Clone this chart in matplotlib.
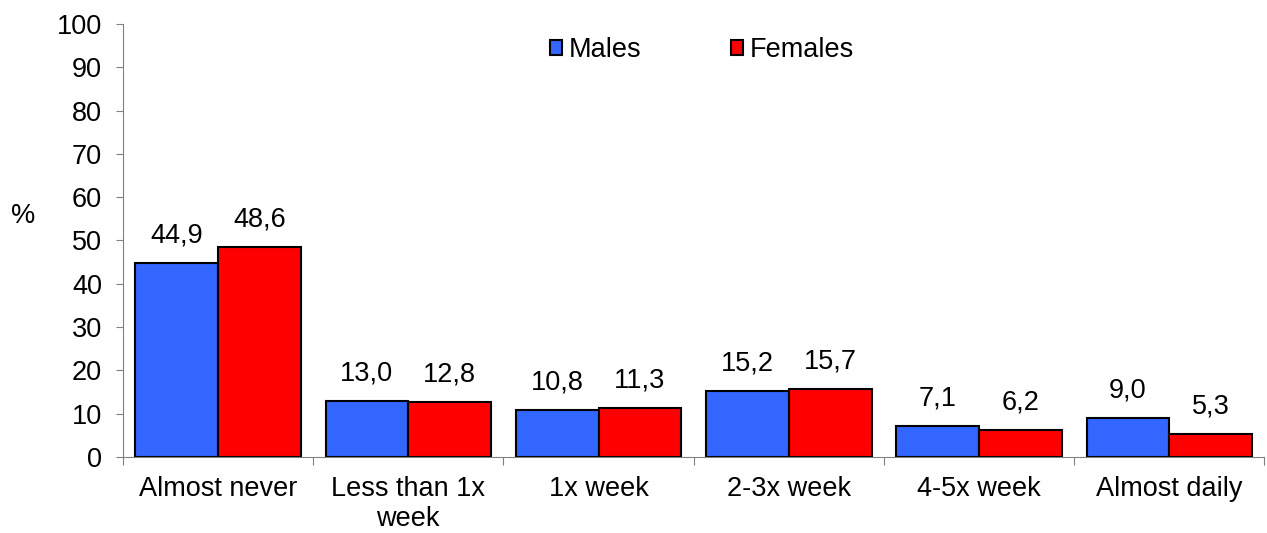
import numpy as np
import matplotlib.pyplot as plt
from matplotlib.patches import Patch

plt.rcParams['font.family'] = ['Liberation Sans', 'DejaVu Sans']

# %% data
categories = ['Almost never', 'Less than 1x\nweek', '1x week', '2-3x week', '4-5x week', 'Almost daily']
males = [44.9, 13.0, 10.8, 15.2, 7.1, 9.0]
females = [48.6, 12.8, 11.3, 15.7, 6.2, 5.3]

FS = 19.5

# %% plot
fig = plt.figure(figsize=(12.67, 5.33), dpi=100)
ax = fig.add_axes([0.097, 0.1426, 0.901, 0.8124])

x = np.arange(len(categories))
w = 0.435
b1 = ax.bar(x - w/2, males, w, color='#3366FF', edgecolor='black', linewidth=1.5, label='Males')
b2 = ax.bar(x + w/2, females, w, color='#FF0000', edgecolor='black', linewidth=1.5, label='Females')

for bars, vals in ((b1, males), (b2, females)):
    for r, v in zip(bars, vals):
        ax.text(r.get_x() + r.get_width()/2, v + 6.3, f'{v:.1f}'.replace('.', ','),
                ha='center', va='center', fontsize=FS)

ax.set_xlim(-0.5, len(categories) - 0.5)
ax.set_ylim(0, 100)
ax.set_yticks(range(0, 101, 10))
ax.tick_params(axis='y', labelsize=FS, length=5, color='#808080', pad=10)

# boundary ticks on x axis, labels at centers
ax.set_xticks(np.arange(-0.5, len(categories), 1))
ax.set_xticklabels([])
ax.set_xticks(x, minor=True)
ax.set_xticklabels(categories, minor=True, fontsize=FS, linespacing=1.2)
ax.tick_params(axis='x', which='major', length=6, color='#808080')
ax.tick_params(axis='x', which='minor', length=0, pad=14)

for s in ['top', 'right']:
    ax.spines[s].set_visible(False)
ax.spines['left'].set_color('#808080')
ax.spines['bottom'].set_color('#808080')

fig.text(0.018, 0.595, '%', fontsize=FS, ha='center', va='center')

handles = [Patch(facecolor='#3366FF', edgecolor='black', linewidth=1.5),
           Patch(facecolor='#FF0000', edgecolor='black', linewidth=1.5)]
ax.legend(handles, ['Males', 'Females'], loc='center', bbox_to_anchor=(0.507, 0.94),
          ncol=2, frameon=False, fontsize=FS, handlelength=0.45, handleheight=0.45,
          handletextpad=0.25, columnspacing=3.3)

plt.savefig('out.png', dpi=100)
